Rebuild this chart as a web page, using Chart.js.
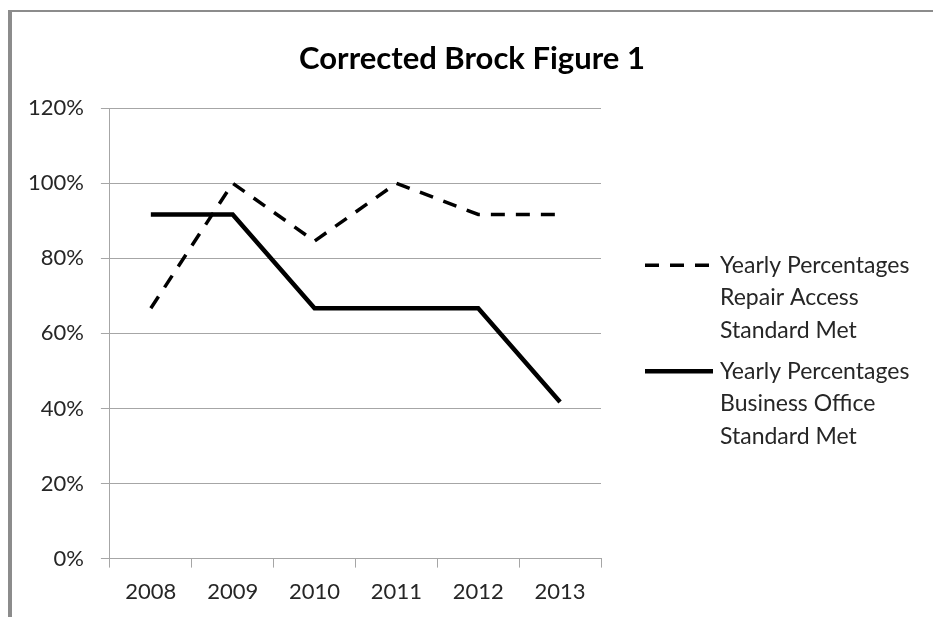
<!DOCTYPE html>
<html>
<head>
<meta charset="utf-8">
<script src="https://cdn.jsdelivr.net/npm/chart.js@4.4.1/dist/chart.umd.min.js"></script>
<style>
  html, body { margin: 0; padding: 0; overflow: hidden; background: #fff; }
  #wrap { position: relative; width: 933px; height: 617px; overflow: hidden; }
  #myChart { display: block; }
  #frame { position: absolute; left: 8px; top: 10px; width: 1000px; height: 700px;
           border-left: 4px solid #8c8c8c; border-top: 2px solid #8c8c8c; pointer-events: none; }
</style>
</head>
<body>
<div id="wrap">
  <canvas id="myChart" width="933" height="617"></canvas>
  <div id="frame"></div>
</div>
<script>
// Données du graphique
const annees = ['2008', '2009', '2010', '2011', '2012', '2013'];
const repairAccess = [66.7, 100, 84.6, 100, 91.7, 91.7];
const businessOffice = [91.7, 91.7, 66.7, 66.7, 66.7, 41.7];
const nomsSeries = [
    ['Yearly Percentages', 'Repair Access', 'Standard Met'],
    ['Yearly Percentages', 'Business Office', 'Standard Met']
];
const ticksY = [0, 20, 40, 60, 80, 100, 120];

Chart.defaults.font.family = 'Lato';

// Légende à droite, texte sur plusieurs lignes
const legendeDroite = {
    id: 'legendeDroite',
    afterDraw(chart, args, opts) {
        const ctx = chart.ctx;
        const area = chart.chartArea;
        ctx.save();
        ctx.font = opts.font;
        ctx.fillStyle = opts.color;
        ctx.textBaseline = 'middle';
        chart.data.datasets.forEach((ds, i) => {
            const x = area.right + opts.left;
            const y = area.top + opts.top + i * opts.itemGap;
            ctx.beginPath();
            ctx.lineWidth = ds.borderWidth;
            ctx.strokeStyle = ds.borderColor;
            ctx.setLineDash(ds.borderDash || []);
            ctx.moveTo(x, y);
            ctx.lineTo(x + opts.lineLength, y);
            ctx.stroke();
            ctx.setLineDash([]);
            nomsSeries[i].forEach((txt, j) => {
                ctx.fillText(txt, x + opts.lineLength + opts.gap, y + j * opts.lineHeight);
            });
        });
        ctx.restore();
    }
};

const ctx = document.getElementById('myChart').getContext('2d');
const data = {
    labels: annees,
    datasets: [{
        label: nomsSeries[0].join(' '),
        data: repairAccess,
        borderColor: '#000',
        borderWidth: 3.5,
        borderDash: [14, 11],
        pointRadius: 0,
        tension: 0,
        fill: false
    }, {
        label: nomsSeries[1].join(' '),
        data: businessOffice,
        borderColor: '#000',
        borderWidth: 4.5,
        pointRadius: 0,
        tension: 0,
        fill: false
    }]
};
const config = {
    type: 'line',
    data: data,
    plugins: [legendeDroite],
    options: {
        responsive: false,
        animation: false,
        layout: { padding: { left: 11, right: 0, top: 0, bottom: 1 } },
        plugins: {
            legend: { display: false },
            tooltip: { enabled: false },
            title: {
                display: true,
                text: 'Corrected Brock Figure 1',
                color: '#000',
                font: { size: 31, weight: 'bold' },
                padding: { top: 40, bottom: 31 }
            },
            legendeDroite: {
                font: '23px Lato',
                color: '#262626',
                left: 44,
                top: 157,
                itemGap: 106,
                lineHeight: 32.5,
                lineLength: 68,
                gap: 7
            }
        },
        scales: {
            x: {
                offset: true,
                grid: { drawOnChartArea: false, offset: true, tickLength: 9, color: '#a6a6a6' },
                border: { color: '#a6a6a6' },
                ticks: { color: '#262626', font: { size: 22 }, padding: 11 }
            },
            y: {
                min: 0,
                max: 120,
                afterBuildTicks: axis => { axis.ticks = ticksY.map(v => ({ value: v })); },
                grid: { tickLength: 9, color: '#a6a6a6' },
                border: { color: '#a6a6a6' },
                ticks: {
                    color: '#262626',
                    font: { size: 22 },
                    padding: 17,
                    callback: v => v + '%'
                }
            },
            // axe vide à droite : réserve la place de la légende
            droite: {
                type: 'linear',
                position: 'right',
                grid: { display: false },
                border: { display: false },
                ticks: { display: false },
                afterFit: scale => { scale.width = 332; }
            }
        }
    }
};
const myChart = new Chart(ctx, config);
</script>
</body>
</html>
